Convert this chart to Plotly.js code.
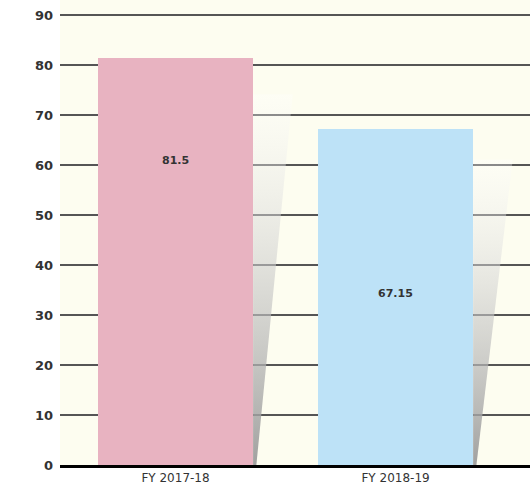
<!DOCTYPE html>
<html>
<head>
<meta charset="utf-8">
<script src="https://cdn.plot.ly/plotly-3.0.1.min.js"></script>
<style>html,body{margin:0;padding:0;background:#fff;}#chart{width:530px;height:484px;}</style>
</head>
<body>
<div id="chart"></div>
<script>
// ---- data ----
const categories = ["FY 2017-18", "FY 2018-19"];
const values = [81.5, 67.15];
const valueLabels = ["81.5", "67.15"];
const barColors = ["#e8b3c1", "#bde2f7"];
const yTicks = [0, 10, 20, 30, 40, 50, 60, 70, 80, 90];

// ---- layout constants ----
const barWidth = 0.705;
const labelY = [61, 34.4];
const shadowTopRatio = 0.91;
const shadowTopWidth = 0.18;
const shadowBottomWidth = 0.015;

const xIdx = categories.map((_, i) => i);

const traces = [{
  type: "bar",
  x: xIdx,
  y: values,
  width: barWidth,
  marker: { color: barColors, line: { width: 0 } },
  hoverinfo: "skip",
  showlegend: false
}];

values.forEach((v, i) => {
  const x0 = i + barWidth / 2;
  const top = v * shadowTopRatio;
  traces.push({
    type: "scatter",
    mode: "lines",
    x: [x0, x0 + shadowTopWidth, x0 + shadowBottomWidth, x0, x0],
    y: [top, top, 0, 0, top],
    fill: "toself",
    line: { width: 0, color: "rgba(0,0,0,0)" },
    fillcolor: "rgba(160,160,160,0.5)",
    fillgradient: {
      type: "vertical",
      colorscale: [[0, "rgba(150,150,150,0.9)"], [0.5, "rgba(200,200,200,0.6)"], [1, "rgba(255,255,255,0.3)"]]
    },
    hoverinfo: "skip",
    showlegend: false
  });
});

const annotations = values.map((v, i) => ({
  x: i, y: labelY[i], xref: "x", yref: "y",
  text: "<b>" + valueLabels[i] + "</b>", showarrow: false,
  font: { family: "DejaVu Sans, sans-serif", size: 11, color: "#333" }
}));

const layout = {
  width: 530, height: 484,
  margin: { l: 60, r: 0, t: 0, b: 19 },
  paper_bgcolor: "#ffffff",
  plot_bgcolor: "#fdfdf0",
  font: { family: "DejaVu Sans, sans-serif", color: "#333" },
  xaxis: {
    range: [-0.525, 1.611],
    tickvals: xIdx,
    ticktext: categories,
    showgrid: false,
    zeroline: false,
    showline: true,
    linecolor: "#000",
    linewidth: 3,
    ticks: "",
    tickfont: { family: "DejaVu Sans, sans-serif", size: 12, color: "#333" },
    fixedrange: true
  },
  yaxis: {
    range: [0, 93],
    tickvals: yTicks,
    ticktext: yTicks.map(t => "<b>" + t + "</b>"),
    showgrid: true,
    gridcolor: "#555",
    gridwidth: 2,
    zeroline: false,
    showline: false,
    ticks: "",
    ticklabelstandoff: 6,
    tickfont: { family: "DejaVu Sans, sans-serif", size: 13, color: "#333" },
    fixedrange: true
  },
  annotations: annotations,
  bargap: 0
};

Plotly.newPlot("chart", traces, layout, { displayModeBar: false, staticPlot: true });
</script>
</body>
</html>
